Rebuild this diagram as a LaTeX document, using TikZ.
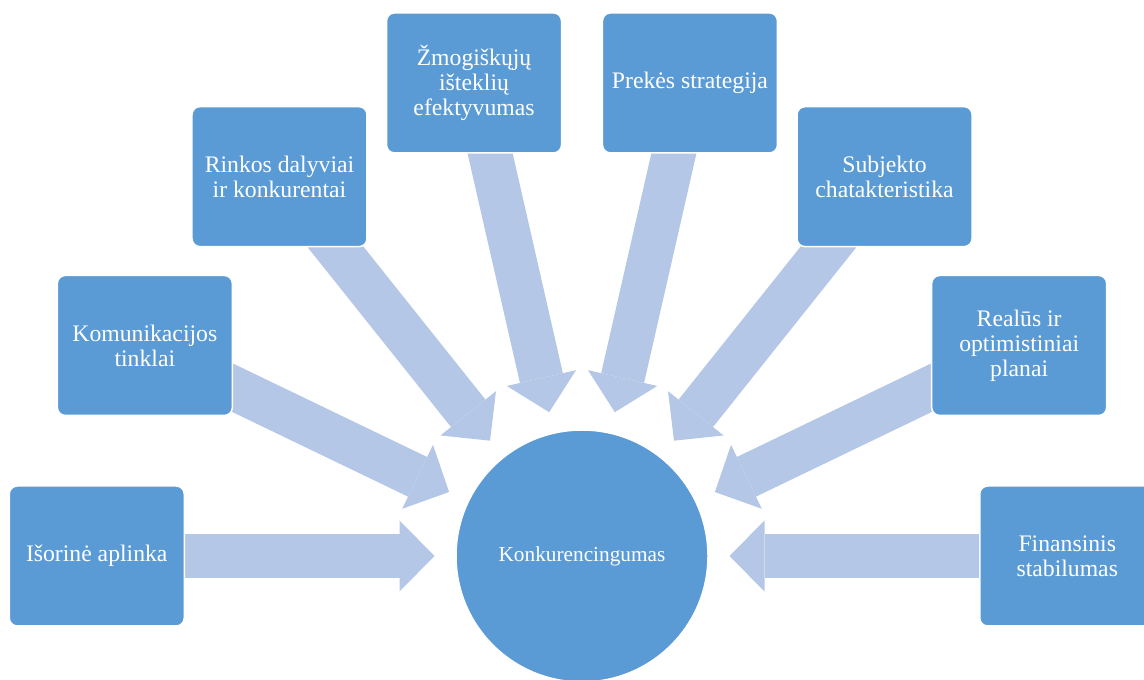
\documentclass[tikz,border=0pt]{standalone}
\usepackage{fontspec}
\setmainfont{Liberation Serif}
\usetikzlibrary{arrows.meta,backgrounds}
\definecolor{boxblue}{HTML}{5B9BD5}
\definecolor{arrowblue}{HTML}{B4C7E7}

\begin{document}
\begin{tikzpicture}[x=0.5pt,y=0.5pt,
  factor/.style={draw=white,line width=0.75pt,fill=boxblue,rounded corners=4pt,minimum width=87.5pt,minimum height=70pt,inner sep=2pt,align=center,text=white,font=\fontsize{11.85}{12.5}\selectfont},
  hub/.style={circle,draw=white,line width=0.75pt,fill=boxblue,minimum size=126pt,inner sep=0pt,outer sep=0pt,text=white,font=\fontsize{10.65}{12}\selectfont},
  flow/.style={draw=arrowblue,line width=22pt,-{Triangle[length=17.5pt,width=35.5pt,line width=0pt]},shorten >=10.75pt}]
  \useasboundingbox (0,0) rectangle (1144,679);
  \clip (0,0) rectangle (1144,679);
  \node[hub] (konk) at (582,123) {Konkurencingumas};
  \node[factor] (isorine) at ([shift={(180:485.25)}]konk.center) {Išorinė aplinka};
  \node[factor] (komunik) at ([shift={(154.2857:485.25)}]konk.center) {Komunikacijos\\tinklai};
  \node[factor] (rinkos) at ([shift={(128.5714:485.25)}]konk.center) {Rinkos dalyviai\\ir konkurentai};
  \node[factor] (zmog) at ([shift={(102.8571:485.25)}]konk.center) {Žmogiškųjų\\išteklių\\efektyvumas};
  \node[factor] (preke) at ([shift={(77.1429:485.25)}]konk.center) {Prekės strategija};
  \node[factor] (subj) at ([shift={(51.4286:485.25)}]konk.center) {Subjekto\\chatakteristika};
  \node[factor] (planai) at ([shift={(25.7143:485.25)}]konk.center) {Realūs ir\\optimistiniai\\planai};
  \node[factor] (fin) at ([shift={(0:485.25)}]konk.center) {Finansinis\\stabilumas};
  \begin{scope}[on background layer]
    \draw[flow] (isorine.center) -- (konk);
    \draw[flow] (komunik.center) -- (konk);
    \draw[flow] (rinkos.center) -- (konk);
    \draw[flow] (zmog.center) -- (konk);
    \draw[flow] (preke.center) -- (konk);
    \draw[flow] (subj.center) -- (konk);
    \draw[flow] (planai.center) -- (konk);
    \draw[flow] (fin.center) -- (konk);
  \end{scope}
\end{tikzpicture}
\end{document}
